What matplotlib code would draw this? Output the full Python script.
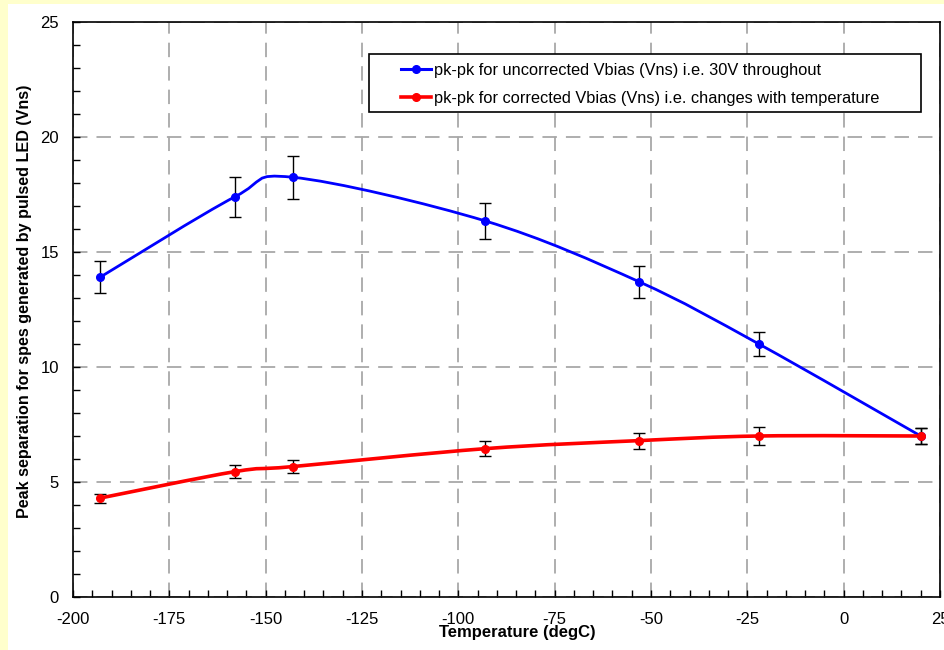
import matplotlib
matplotlib.use("Agg")
import matplotlib.pyplot as plt
from matplotlib.path import Path
from matplotlib.patches import PathPatch, Rectangle
from matplotlib.lines import Line2D
from matplotlib.ticker import MultipleLocator

# temperatures (degC) and pk-pk separations
temps = [-193, -158, -143, -93, -53, -22, 20]
pk_uncorr = [13.9, 17.4, 18.25, 16.35, 13.7, 11.0, 7.0]
err_uncorr = [0.7, 0.87, 0.93, 0.8, 0.7, 0.53, 0.35]
pk_corr = [4.3, 5.45, 5.67, 6.45, 6.8, 7.0, 7.0]
err_corr = [0.2, 0.28, 0.3, 0.33, 0.35, 0.37, 0.35]

label_uncorr = "pk-pk for uncorrected Vbias (Vns) i.e. 30V throughout"
label_corr = "pk-pk for corrected Vbias (Vns) i.e. changes with temperature"

plt.rcParams["font.family"] = ["Liberation Sans", "DejaVu Sans"]
plt.rcParams["axes.unicode_minus"] = False


def smooth_path(xs, ys):
    """Excel-style smoothed line as a cubic Bezier path through the points."""
    pts = list(zip(xs, ys))
    n = len(pts)
    verts = [pts[0]]
    codes = [Path.MOVETO]
    for i in range(n - 1):
        p0 = pts[max(i - 1, 0)]
        p1 = pts[i]
        p2 = pts[i + 1]
        p3 = pts[min(i + 2, n - 1)]
        c1 = (p1[0] + (p2[0] - p0[0]) / 6, p1[1] + (p2[1] - p0[1]) / 6)
        c2 = (p2[0] - (p3[0] - p1[0]) / 6, p2[1] - (p3[1] - p1[1]) / 6)
        verts += [c1, c2, p2]
        codes += [Path.CURVE4] * 3
    return Path(verts, codes)


fig = plt.figure(figsize=(9.44, 6.5), dpi=100, facecolor="#FFFFCC")
fig.patches.append(Rectangle((8 / 944, 0), 1, 1 - 4 / 650, transform=fig.transFigure,
                             facecolor="white", edgecolor="none", zorder=-10))
ax = fig.add_axes([73 / 944, 1 - 597 / 650, 867 / 944, 575 / 650])
ax.set_zorder(1)
ax.set_facecolor("white")

ax.set_xlim(-200, 25)
ax.set_ylim(0, 25)

for ys, errs, col, lw in [(pk_uncorr, err_uncorr, "#0000FF", 2.0),
                          (pk_corr, err_corr, "#FF0000", 2.6)]:
    ax.errorbar(temps, ys, yerr=errs, fmt="none", ecolor="black", elinewidth=1,
                capsize=4, capthick=1, zorder=3)
    ax.add_patch(PathPatch(smooth_path(temps, ys), facecolor="none", edgecolor=col,
                           lw=lw, zorder=4))
    ax.plot(temps, ys, "o", color=col, ms=5.5, zorder=5)

ax.xaxis.set_major_locator(MultipleLocator(25))
ax.xaxis.set_minor_locator(MultipleLocator(5))
ax.yaxis.set_major_locator(MultipleLocator(5))
ax.yaxis.set_minor_locator(MultipleLocator(1))
ax.tick_params(axis="both", which="both", direction="in", length=5, width=1,
               labelsize=12, colors="black")
ax.tick_params(axis="x", which="major", pad=10.5)
ax.tick_params(axis="y", which="major", pad=10)
ax.grid(True, which="major", color="#A8A8A8", linestyle=(0, (8, 5)), linewidth=1.3)
ax.set_axisbelow(True)
for s in ax.spines.values():
    s.set_color("black")
    s.set_linewidth(1.2)

ax.set_xlabel("Temperature (degC)", fontsize=12, fontweight="bold")
ax.xaxis.set_label_coords(0.512, -0.0487)
ax.set_ylabel("Peak separation for spes generated by pulsed LED (Vns)", fontsize=11.6,
              fontweight="bold")
ax.yaxis.set_label_coords(-0.047, 0.515)

# legend box drawn separately so the entries can sit off-centre like the original
ax.add_patch(Rectangle((0.3414, 0.8435), 0.6366, 0.101, transform=ax.transAxes,
                       facecolor="white", edgecolor="black", lw=1.2, zorder=6))
handles = [Line2D([], [], color="#0000FF", lw=2.2, marker="o", ms=5.5),
           Line2D([], [], color="#FF0000", lw=2.6, marker="o", ms=5.5)]
leg = ax.legend(handles, [label_uncorr, label_corr], loc="upper left",
                bbox_to_anchor=(0.378, 0.929), fontsize=11.8, frameon=False,
                handlelength=1.85, handletextpad=0.15, labelspacing=0.8,
                borderpad=0, borderaxespad=0)
leg.set_zorder(7)

fig.savefig("out.png", dpi=100, facecolor=fig.get_facecolor())
